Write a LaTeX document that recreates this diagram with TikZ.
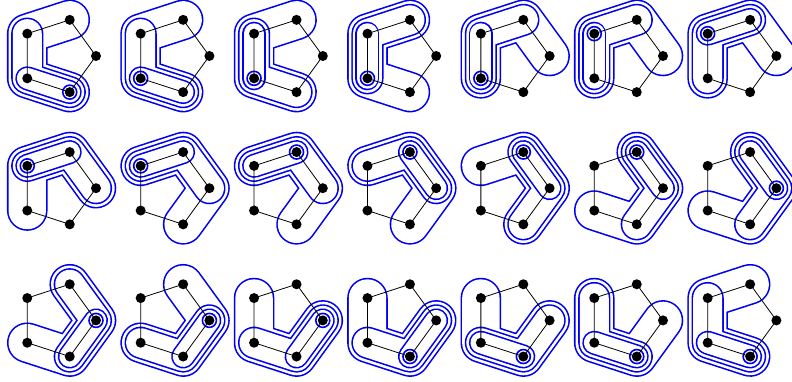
\documentclass[tikz,border=0pt]{standalone}
\usepackage{xcolor}
\usetikzlibrary{calc}
\definecolor{tubeblue}{HTML}{0000F0}

\begin{document}
\begin{tikzpicture}[x=1pt, y=1pt,
    vertex/.style={circle, fill=black, inner sep=0pt, minimum size=10pt},
    edge/.style={line width=0.8pt, black},
    tube/.style={line width=#1, tubeblue, line cap=round, line join=round},
    hole/.style={line width=#1, white, line cap=round, line join=round}
  ]
  \useasboundingbox (0,0) rectangle (792,382);
  \def\lw{1.6}
  \foreach \p in {0,...,20} {
    \pgfmathtruncatemacro{\col}{mod(\p,7)}
    \pgfmathtruncatemacro{\row}{div(\p,7)}
    \pgfmathsetmacro{\cx}{58+113.4*\col}
    \pgfmathsetmacro{\cy}{326-132.2*\row}
    % pentagon corners, 5..9 repeat 0..4
    \foreach \i in {0,...,9}
      \coordinate (p\p-\i) at ($(\cx,\cy)+({144-72*\i}:38)$);
    % nested tubes, largest first
    \foreach \k/\r in {4/19.5, 3/15.3, 2/11.2} {
      \pgfmathtruncatemacro{\s}{mod(3+div(\p+4-\k,4),5)}
      \pgfmathtruncatemacro{\sa}{\s+1}
      \pgfmathtruncatemacro{\e}{\s+\k-1}
      \pgfmathsetmacro{\wout}{2*\r+\lw}
      \pgfmathsetmacro{\win}{2*\r-\lw}
      \draw[tube=\wout pt] (p\p-\s) \foreach \j in {\sa,...,\e} {-- (p\p-\j)};
      \draw[hole=\win pt] (p\p-\s) \foreach \j in {\sa,...,\e} {-- (p\p-\j)};
    }
    \pgfmathtruncatemacro{\s}{mod(3+div(\p+3,4),5)}
    \filldraw[draw=tubeblue, fill=white, line width=\lw pt] (p\p-\s) circle[radius=7];
    % the graph
    \draw[edge] (p\p-0) -- (p\p-1) -- (p\p-2) -- (p\p-3) -- (p\p-4) -- cycle;
    \foreach \i in {0,...,4}
      \node[vertex] (p\p-n\i) at (p\p-\i) {};
  }
\end{tikzpicture}
\end{document}
